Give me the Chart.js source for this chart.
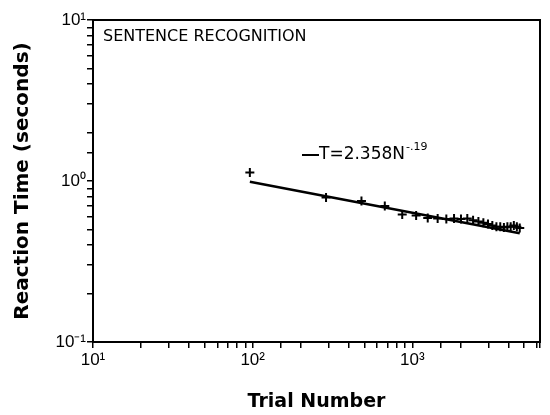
<!DOCTYPE html>
<html>
<head>
<meta charset="utf-8">
<script src="https://cdn.jsdelivr.net/npm/chart.js@4"></script>
<style>
  html, body { margin: 0; padding: 0; background: #fff; }
  #wrap { width: 550px; height: 415px; }
</style>
</head>
<body>
<div id="wrap"><canvas id="rtChart" width="550" height="415"></canvas></div>
<script>
// === Data ===
const trialNumbers = [96, 288, 480, 672, 864, 1056, 1248, 1440, 1632, 1824, 2016, 2208, 2400,
                      2592, 2784, 2976, 3168, 3360, 3552, 3744, 3936, 4128, 4320, 4512, 4704];
const reactionTimes = [1.13, 0.79, 0.75, 0.70, 0.62, 0.61, 0.59, 0.585, 0.58, 0.585, 0.58, 0.585, 0.57,
                       0.56, 0.55, 0.54, 0.53, 0.52, 0.52, 0.515, 0.52, 0.52, 0.53, 0.52, 0.51];
// fitted power law, end points
const fitTrials = [96, 4704];
const fitTimes = [0.99, 0.473];

const xTickValues = [10, 100, 1000];
const xTickLabels = ['10\u00B9', '10\u00B2', '10\u00B3'];
const yTickValues = [0.1, 1, 10];
const yTickLabels = ['10\u207B\u00B9', '10\u2070', '10\u00B9'];

const panelTitle = 'SENTENCE RECOGNITION';
const fitLabel = 'T=2.358N';
const fitExponent = '-.19';

function decadeLabel(values, labels) {
    return function (value) {
        for (let i = 0; i < values.length; i++) {
            if (Math.abs(value - values[i]) < values[i] * 1e-6) return labels[i];
        }
        return '';
    };
}

// === Frame + annotations ===
const framePlugin = {
    id: 'frame',
    afterDraw(chart) {
        const { ctx, chartArea: a } = chart;
        ctx.save();
        ctx.strokeStyle = '#000';
        ctx.lineWidth = 2;
        ctx.strokeRect(a.left, a.top, a.right - a.left, a.bottom - a.top);

        ctx.fillStyle = '#000';
        ctx.textBaseline = 'middle';
        ctx.font = '16px "DejaVu Sans"';
        ctx.fillText(panelTitle, a.left + 10, a.top + 17);

        // fit legend
        const lx = 302, ly = 155;
        ctx.lineWidth = 2;
        ctx.beginPath();
        ctx.moveTo(lx, ly);
        ctx.lineTo(lx + 17, ly);
        ctx.stroke();
        ctx.font = '17px "DejaVu Sans"';
        ctx.fillText(fitLabel, lx + 17, ly);
        const w = ctx.measureText(fitLabel).width;
        ctx.font = '11px "DejaVu Sans"';
        ctx.fillText(fitExponent, lx + 17 + w + 1, ly - 8);
        ctx.restore();
    }
};

const ctx = document.getElementById('rtChart').getContext('2d');

new Chart(ctx, {
    type: 'scatter',
    data: {
        datasets: [
            {
                label: 'Sentence recognition',
                data: trialNumbers.map((n, i) => ({ x: n, y: reactionTimes[i] })),
                pointStyle: 'cross',
                pointRadius: 4.5,
                pointBorderWidth: 2,
                borderColor: '#000',
                backgroundColor: '#000',
                showLine: false
            },
            {
                label: 'Fit',
                data: fitTrials.map((n, i) => ({ x: n, y: fitTimes[i] })),
                showLine: true,
                borderColor: '#000',
                borderWidth: 2.5,
                pointRadius: 0
            }
        ]
    },
    options: {
        responsive: false,
        animation: false,
        layout: { padding: { top: 20, right: 10, left: 0, bottom: 0 } },
        plugins: {
            legend: { display: false },
            tooltip: { enabled: false }
        },
        scales: {
            x: {
                type: 'logarithmic',
                min: 10,
                max: 6300,
                afterFit(scale) { scale.height = 73; },
                border: { display: true, color: '#000', width: 2 },
                grid: { drawOnChartArea: false, drawTicks: true, tickLength: 6, color: '#000', lineWidth: 1.5 },
                ticks: {
                    autoSkip: false,
                    maxRotation: 0,
                    padding: 2,
                    color: '#000',
                    font: { family: '"Liberation Sans"', size: 17 },
                    callback: decadeLabel(xTickValues, xTickLabels)
                },
                title: {
                    display: true,
                    text: 'Trial Number',
                    color: '#000',
                    font: { family: '"DejaVu Sans"', size: 19, weight: 'bold' },
                    padding: { top: 0, bottom: 2 }
                }
            },
            y: {
                type: 'logarithmic',
                min: 0.1,
                max: 10,
                afterFit(scale) { scale.width = 93; },
                border: { display: true, color: '#000', width: 2 },
                grid: { drawOnChartArea: false, drawTicks: true, tickLength: 6, color: '#000', lineWidth: 1.5 },
                ticks: {
                    autoSkip: false,
                    padding: 1,
                    color: '#000',
                    font: { family: '"Liberation Sans"', size: 17 },
                    callback: decadeLabel(yTickValues, yTickLabels)
                },
                title: {
                    display: true,
                    text: 'Reaction Time (seconds)',
                    color: '#000',
                    font: { family: '"DejaVu Sans"', size: 20, weight: 'bold' },
                    padding: { top: 11, bottom: 0 }
                }
            }
        }
    },
    plugins: [framePlugin]
});
</script>
</body>
</html>
